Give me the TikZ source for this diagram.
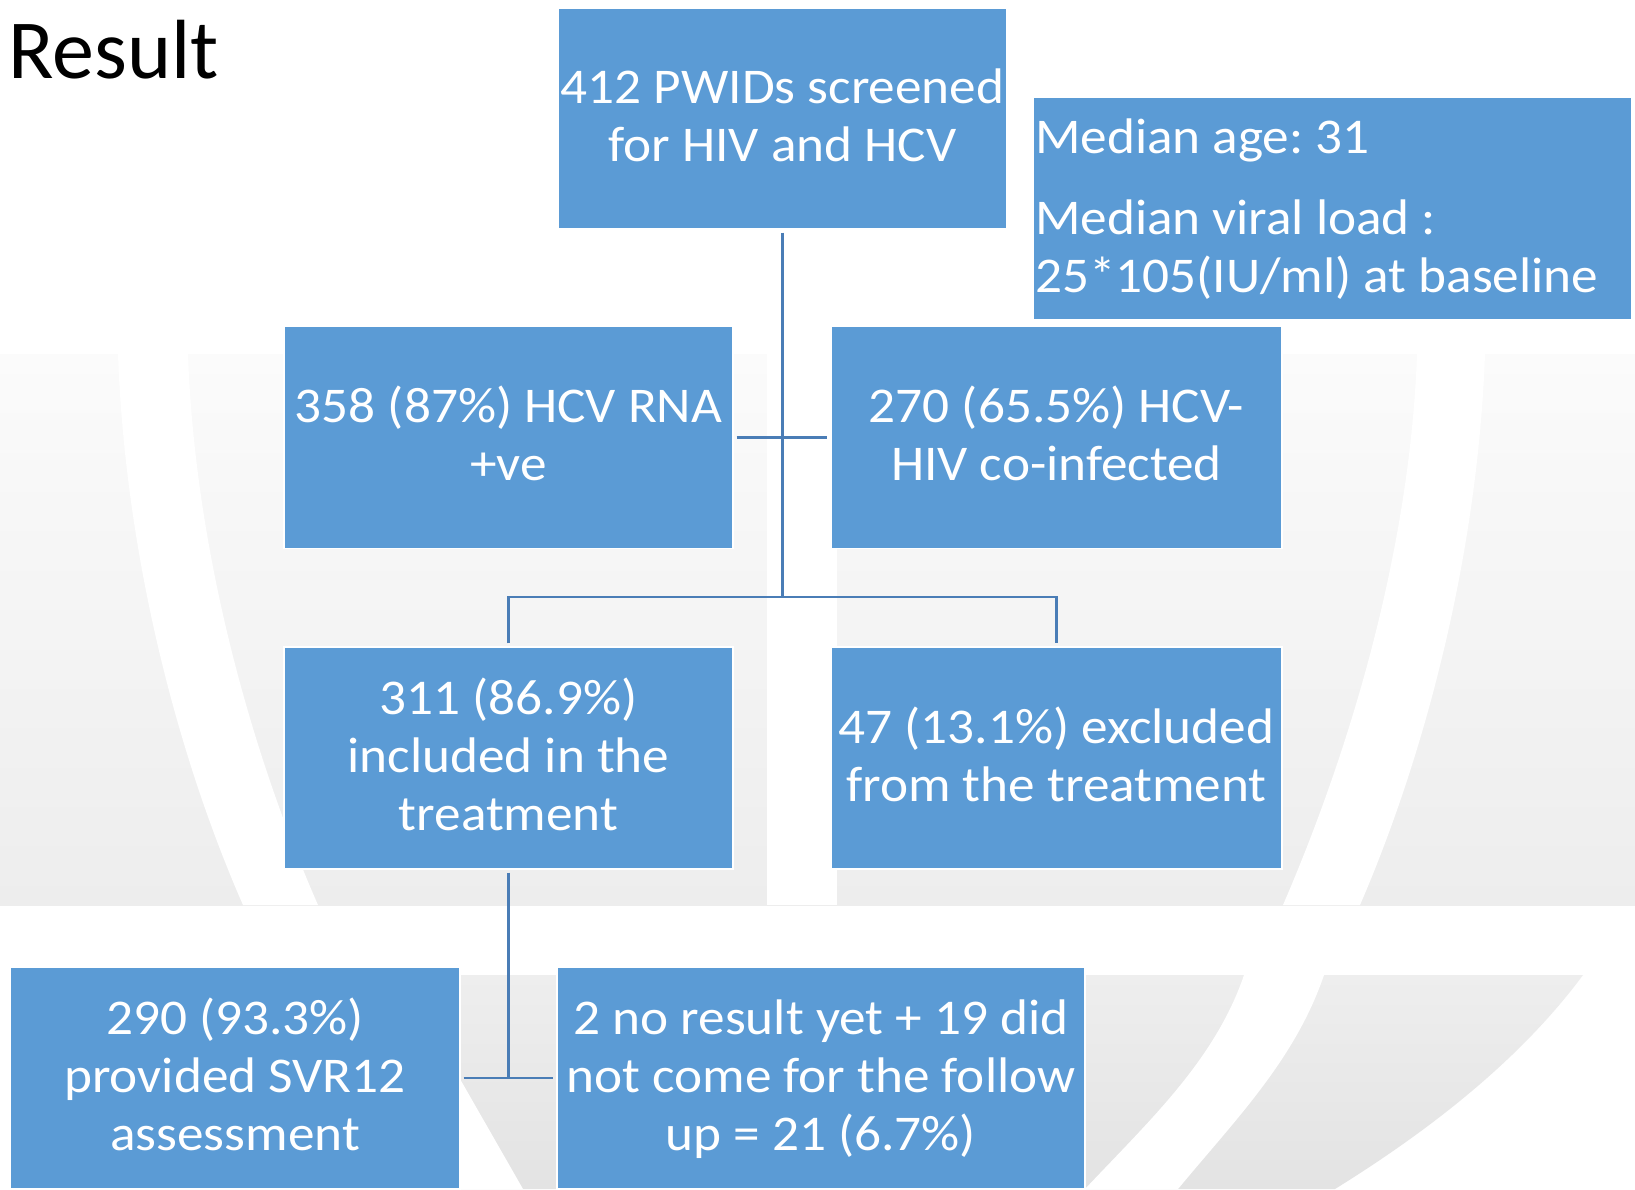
\documentclass[tikz,border=0pt]{standalone}
\usepackage{fontspec}
\setmainfont{Carlito}
\newfontfamily\boxfont[FakeStretch=1.065]{Carlito}
\usetikzlibrary{calc}
\frenchspacing
\definecolor{boxblue}{HTML}{5B9BD5}
\definecolor{linkblue}{HTML}{4A7DB6}
\definecolor{bgtop}{HTML}{FBFBFB}
\definecolor{bgbot}{HTML}{EDEDED}
\definecolor{lowtop}{HTML}{EEEEEE}
\definecolor{lowbot}{HTML}{E3E3E3}
\newcommand{\topstrut}{\rule{0pt}{40pt}}
\newcommand{\botstrut}{\rule[-12pt]{0pt}{12pt}}
\begin{document}
\begin{tikzpicture}[x=1pt,y=-1pt,
  flowbox/.style={draw=white, line width=1.2pt, fill=boxblue, text=white,
    align=center, inner sep=0pt, minimum width=449pt, minimum height=222pt,
    font=\boxfont\fontsize{50}{58}\selectfont\frenchspacing},
  link/.style={draw=linkblue, line width=2.6pt},
  bandfill/.style={fill=white, draw=none}]
\clip (0,0) rectangle (1635,1189);
\fill[white] (0,0) rectangle (1635,1189);
% background watermark
\shade[top color=bgtop, bottom color=bgbot] (0,354) rectangle (1635,905);
\fill[bandfill] (118,354) .. controls (125,550) and (175,750) .. (243,905)
  -- (318,905) .. controls (250,750) and (195,550) .. (188,354) -- cycle;
\fill[bandfill] (767,354) rectangle (837,905);
\fill[bandfill] (1417,354) .. controls (1410,550) and (1350,750) .. (1283,905)
  -- (1360,905) .. controls (1427,750) and (1478,550) .. (1485,354) -- cycle;
\shade[top color=lowtop, bottom color=lowbot] (300,975) -- (1583,975)
  .. controls (1520,1060) and (1430,1130) .. (1335,1189) -- (300,1189) -- cycle;
\fill[bandfill] (1244,975) .. controls (1215,1060) and (1150,1120) .. (1085,1189)
  -- (1178,1189) .. controls (1235,1120) and (1295,1060) .. (1324,975) -- cycle;
\fill[bandfill] (440,1044) -- (523,1189) -- (440,1189) -- cycle;
% title
\node[anchor=base west, inner sep=0pt, font=\fontsize{84}{100}\selectfont] (title) at (8,78) {Result};
% boxes
\node[flowbox, minimum width=449pt, minimum height=221pt] (top) at (782.5,118.5)
  {\topstrut 412 PWIDs screened\\for HIV and HCV\botstrut};
\node[flowbox, minimum width=599pt, minimum height=223pt, align=flush left, text width=595pt] (median) at (1332.5,208.5)
  {\topstrut Median age: 31\\[23pt]Median viral load :\\25*105(IU/ml) at baseline\botstrut};
\node[flowbox] (r358) at (508.5,437.5) {\topstrut 358 (87\%) HCV RNA\\+ve\botstrut};
\node[flowbox, minimum width=451pt] (r270) at (1056.5,437.5) {\topstrut 270 (65.5\%) HCV-\\HIV co-infected\botstrut};
\node[flowbox] (r311) at (508.5,758) {\topstrut 311 (86.9\%)\\included in the\\treatment\botstrut};
\node[flowbox, minimum width=451pt] (r47) at (1056.5,758) {\topstrut 47 (13.1\%) excluded\\from the treatment\botstrut};
\node[flowbox, minimum width=450pt] (r290) at (235,1078) {\topstrut 290 (93.3\%)\\provided SVR12\\assessment\botstrut};
\node[flowbox, minimum width=528pt] (r2no) at (821,1078) {\topstrut 2 no result yet + 19 did\\not come for the follow\\up = 21 (6.7\%)\botstrut};
% connectors
\coordinate (j2) at (782.5,597);
\draw[link] ($(top.south)+(0,3)$) -- (j2);
\draw[link] ($(r358.east)+(3,0)$) -- ($(r270.west)+(-3,0)$);
\draw[link] ($(r311.north)+(0,-3)$) |- (j2) -| ($(r47.north)+(0,-3)$);
\coordinate (j3) at (508.5,1078);
\draw[link] ($(r311.south)+(0,3)$) -- (j3);
\draw[link] ($(r290.east)+(3,0)$) -- ($(r2no.west)+(-3,0)$);
\end{tikzpicture}
\end{document}
